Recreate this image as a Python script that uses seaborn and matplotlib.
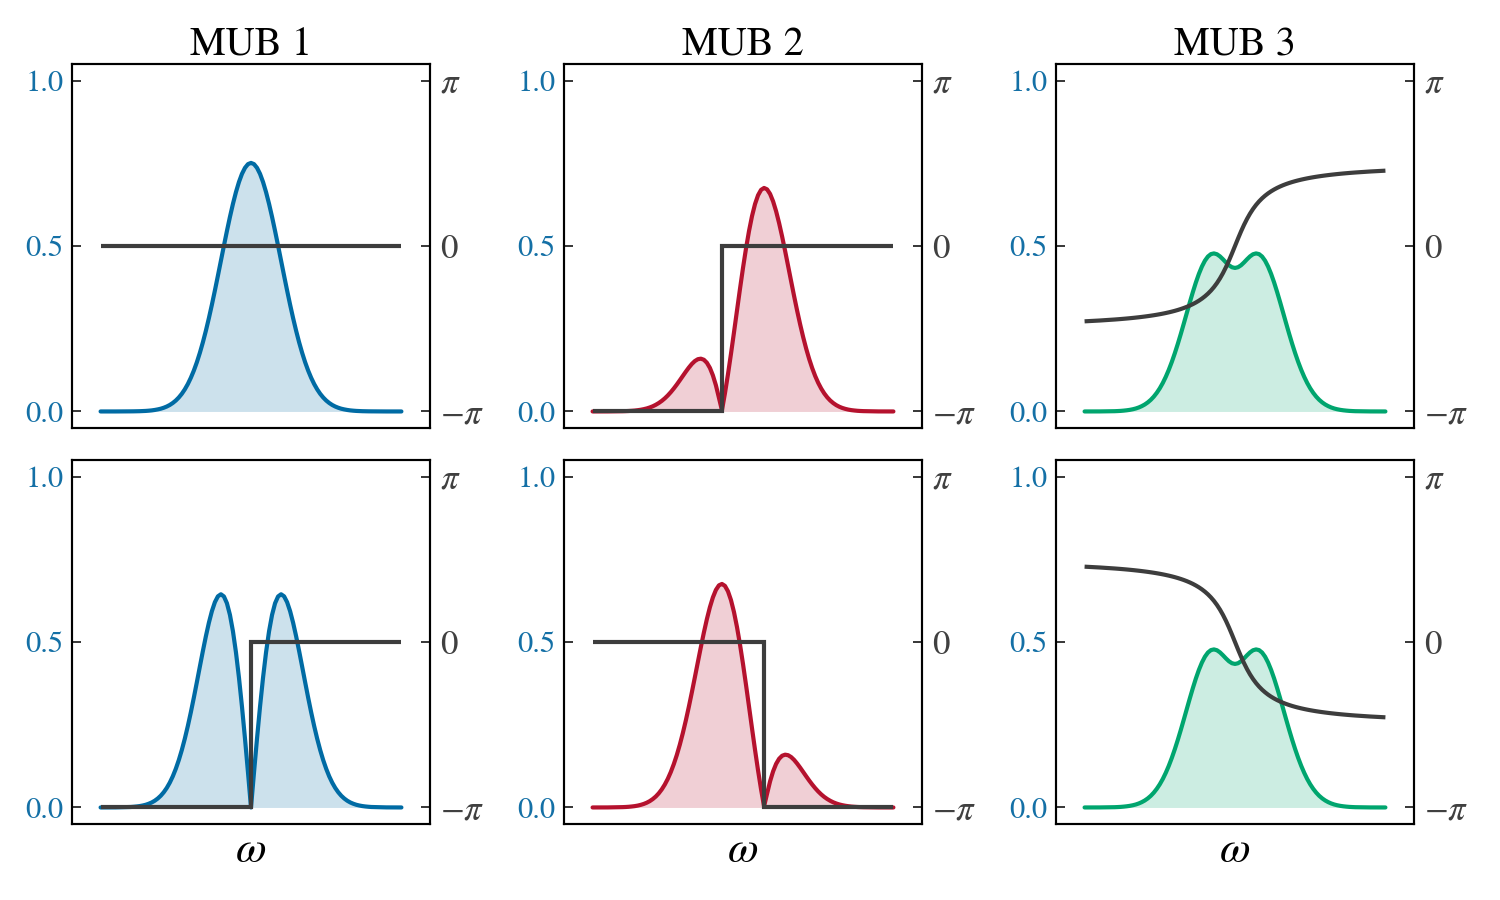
import numpy as np
import matplotlib
matplotlib.use("Agg")
import matplotlib.pyplot as plt
import seaborn as sns

# ---------------- data ----------------
omega = [-5.0, -4.5,
         -4.0, -3.9, -3.8, -3.7, -3.6, -3.5, -3.4, -3.3, -3.2, -3.1,
         -3.0, -2.9, -2.8, -2.7, -2.6, -2.5, -2.4, -2.3, -2.2, -2.1,
         -2.0, -1.9, -1.8, -1.7, -1.6, -1.5, -1.4, -1.3, -1.2, -1.1,
         -1.0, -0.9, -0.8, -0.7, -0.6, -0.5, -0.4, -0.3, -0.2, -0.1,
         0.0,
         0.1, 0.2, 0.3, 0.4, 0.5, 0.6, 0.7, 0.8, 0.9, 1.0,
         1.1, 1.2, 1.3, 1.4, 1.5, 1.6, 1.7, 1.8, 1.9, 2.0,
         2.1, 2.2, 2.3, 2.4, 2.5, 2.6, 2.7, 2.8, 2.9, 3.0,
         3.1, 3.2, 3.3, 3.4, 3.5, 3.6, 3.7, 3.8, 3.9, 4.0,
         4.5, 5.0]

amp_mub1_top = [0.0000, 0.0000,
                0.0003, 0.0004, 0.0006, 0.0008, 0.0012, 0.0016, 0.0023, 0.0032, 0.0045, 0.0062,
                0.0083, 0.0112, 0.0149, 0.0196, 0.0256, 0.0330, 0.0422, 0.0533, 0.0668, 0.0828,
                0.1017, 0.1235, 0.1486, 0.1771, 0.2088, 0.2438, 0.2819, 0.3226, 0.3656, 0.4102,
                0.4556, 0.5010, 0.5454, 0.5879, 0.6274, 0.6629, 0.6934, 0.7181, 0.7362, 0.7474,
                0.7511,
                0.7474, 0.7362, 0.7181, 0.6934, 0.6629, 0.6274, 0.5879, 0.5454, 0.5010, 0.4556,
                0.4102, 0.3656, 0.3226, 0.2819, 0.2438, 0.2088, 0.1771, 0.1486, 0.1235, 0.1017,
                0.0828, 0.0668, 0.0533, 0.0422, 0.0330, 0.0256, 0.0196, 0.0149, 0.0112, 0.0083,
                0.0062, 0.0045, 0.0032, 0.0023, 0.0016, 0.0012, 0.0008, 0.0006, 0.0004, 0.0003,
                0.0000, 0.0000]

amp_mub1_bot = [0.0000, 0.0002,
                0.0014, 0.0021, 0.0030, 0.0042, 0.0059, 0.0081, 0.0112, 0.0151, 0.0203, 0.0270,
                0.0354, 0.0460, 0.0590, 0.0749, 0.0940, 0.1167, 0.1431, 0.1735, 0.2078, 0.2459,
                0.2875, 0.3319, 0.3784, 0.4257, 0.4725, 0.5173, 0.5581, 0.5932, 0.6204, 0.6380,
                0.6443, 0.6376, 0.6171, 0.5820, 0.5323, 0.4687, 0.3922, 0.3046, 0.2082, 0.1057,
                0.0000,
                0.1057, 0.2082, 0.3046, 0.3922, 0.4687, 0.5323, 0.5820, 0.6171, 0.6376, 0.6443,
                0.6380, 0.6204, 0.5932, 0.5581, 0.5173, 0.4725, 0.4257, 0.3784, 0.3319, 0.2875,
                0.2459, 0.2078, 0.1735, 0.1431, 0.1167, 0.0940, 0.0749, 0.0590, 0.0460, 0.0354,
                0.0270, 0.0203, 0.0151, 0.0112, 0.0081, 0.0059, 0.0042, 0.0030, 0.0021, 0.0014,
                0.0002, 0.0000]

amp_mub2_top = [0.0000, 0.0001,
                0.0007, 0.0010, 0.0014, 0.0020, 0.0027, 0.0038, 0.0051, 0.0069, 0.0091, 0.0120,
                0.0156, 0.0201, 0.0255, 0.0319, 0.0395, 0.0483, 0.0583, 0.0694, 0.0814, 0.0942,
                0.1073, 0.1203, 0.1326, 0.1436, 0.1523, 0.1579, 0.1595, 0.1562, 0.1471, 0.1316,
                0.1089, 0.0789, 0.0414, 0.0034, 0.0549, 0.1121, 0.1739, 0.2387, 0.3048, 0.3705,
                0.4337,
                0.4925, 0.5453, 0.5905, 0.6268, 0.6533, 0.6696, 0.6754, 0.6712, 0.6574, 0.6350,
                0.6052, 0.5693, 0.5288, 0.4850, 0.4394, 0.3934, 0.3480, 0.3043, 0.2630, 0.2247,
                0.1898, 0.1585, 0.1310, 0.1070, 0.0864, 0.0691, 0.0546, 0.0427, 0.0330, 0.0253,
                0.0191, 0.0143, 0.0106, 0.0078, 0.0056, 0.0040, 0.0029, 0.0020, 0.0014, 0.0010,
                0.0001, 0.0000]

amp_mub2_bot = [0.0000, 0.0001,
                0.0010, 0.0014, 0.0020, 0.0029, 0.0040, 0.0056, 0.0078, 0.0106, 0.0143, 0.0191,
                0.0253, 0.0330, 0.0427, 0.0546, 0.0691, 0.0864, 0.1070, 0.1310, 0.1585, 0.1898,
                0.2247, 0.2630, 0.3043, 0.3480, 0.3934, 0.4394, 0.4850, 0.5288, 0.5693, 0.6052,
                0.6350, 0.6574, 0.6712, 0.6754, 0.6696, 0.6533, 0.6268, 0.5905, 0.5453, 0.4925,
                0.4337,
                0.3705, 0.3048, 0.2387, 0.1739, 0.1121, 0.0549, 0.0034, 0.0414, 0.0789, 0.1089,
                0.1316, 0.1471, 0.1562, 0.1595, 0.1579, 0.1523, 0.1436, 0.1326, 0.1203, 0.1073,
                0.0942, 0.0814, 0.0694, 0.0583, 0.0483, 0.0395, 0.0319, 0.0255, 0.0201, 0.0156,
                0.0120, 0.0091, 0.0069, 0.0051, 0.0038, 0.0027, 0.0020, 0.0014, 0.0010, 0.0007,
                0.0001, 0.0000]

amp_mub3 = [0.0000, 0.0001,
            0.0008, 0.0012, 0.0017, 0.0025, 0.0035, 0.0048, 0.0066, 0.0089, 0.0120, 0.0160,
            0.0210, 0.0273, 0.0351, 0.0447, 0.0563, 0.0700, 0.0861, 0.1048, 0.1260, 0.1498,
            0.1761, 0.2045, 0.2347, 0.2662, 0.2983, 0.3302, 0.3610, 0.3899, 0.4158, 0.4379,
            0.4556, 0.4682, 0.4755, 0.4776, 0.4751, 0.4687, 0.4599, 0.4503, 0.4417, 0.4358,
            0.4337,
            0.4358, 0.4417, 0.4503, 0.4599, 0.4687, 0.4751, 0.4776, 0.4755, 0.4682, 0.4556,
            0.4379, 0.4158, 0.3899, 0.3610, 0.3302, 0.2983, 0.2662, 0.2347, 0.2045, 0.1761,
            0.1498, 0.1260, 0.1048, 0.0861, 0.0700, 0.0563, 0.0447, 0.0351, 0.0273, 0.0210,
            0.0160, 0.0120, 0.0089, 0.0066, 0.0048, 0.0035, 0.0025, 0.0017, 0.0012, 0.0008,
            0.0001, 0.0000]

phase_mub3_top = [-1.4303, -1.4149,
                  -1.3958, -1.3914, -1.3868, -1.3820, -1.3769, -1.3715, -1.3658, -1.3597, -1.3533, -1.3465,
                  -1.3393, -1.3316, -1.3234, -1.3147, -1.3053, -1.2952, -1.2843, -1.2725, -1.2598, -1.2460,
                  -1.2310, -1.2145, -1.1965, -1.1766, -1.1547, -1.1303, -1.1031, -1.0726, -1.0383, -0.9995,
                  -0.9553, -0.9049, -0.8469, -0.7804, -0.7037, -0.6155, -0.5148, -0.4013, -0.2756, -0.1405,
                  0.0000,
                  0.1405, 0.2756, 0.4013, 0.5148, 0.6155, 0.7037, 0.7804, 0.8469, 0.9049, 0.9553,
                  0.9995, 1.0383, 1.0726, 1.1031, 1.1303, 1.1547, 1.1766, 1.1965, 1.2145, 1.2310,
                  1.2460, 1.2598, 1.2725, 1.2843, 1.2952, 1.3053, 1.3147, 1.3234, 1.3316, 1.3393,
                  1.3465, 1.3533, 1.3597, 1.3658, 1.3715, 1.3769, 1.3820, 1.3868, 1.3914, 1.3958,
                  1.4149, 1.4303]

phase_mub3_bot = [1.4303, 1.4149,
                  1.3958, 1.3914, 1.3868, 1.3820, 1.3769, 1.3715, 1.3658, 1.3597, 1.3533, 1.3465,
                  1.3393, 1.3316, 1.3234, 1.3147, 1.3053, 1.2952, 1.2843, 1.2725, 1.2598, 1.2460,
                  1.2310, 1.2145, 1.1965, 1.1766, 1.1547, 1.1303, 1.1031, 1.0726, 1.0383, 0.9995,
                  0.9553, 0.9049, 0.8469, 0.7804, 0.7037, 0.6155, 0.5148, 0.4013, 0.2756, 0.1405,
                  0.0000,
                  -0.1405, -0.2756, -0.4013, -0.5148, -0.6155, -0.7037, -0.7804, -0.8469, -0.9049, -0.9553,
                  -0.9995, -1.0383, -1.0726, -1.1031, -1.1303, -1.1547, -1.1766, -1.1965, -1.2145, -1.2310,
                  -1.2460, -1.2598, -1.2725, -1.2843, -1.2952, -1.3053, -1.3147, -1.3234, -1.3316, -1.3393,
                  -1.3465, -1.3533, -1.3597, -1.3658, -1.3715, -1.3769, -1.3820, -1.3868, -1.3914, -1.3958,
                  -1.4149, -1.4303]

# step-shaped phases: breakpoints (omega, phase in rad)
phase_mub1_top_x = [-5.0, 5.0]
phase_mub1_top = [0.0, 0.0]
phase_mub1_bot_x = [-5.0, 0.0, 0.0, 5.0]
phase_mub1_bot = [-3.1416, -3.1416, 0.0, 0.0]
phase_mub2_top_x = [-5.0, -0.707, -0.707, 5.0]
phase_mub2_top = [-3.1416, -3.1416, 0.0, 0.0]
phase_mub2_bot_x = [-5.0, 0.707, 0.707, 5.0]
phase_mub2_bot = [0.0, 0.0, -3.1416, -3.1416]

titles = ["MUB 1", "MUB 2", "MUB 3"]
amp_ticks = [0.0, 0.5, 1.0]
amp_ticklabels = ["0.0", "0.5", "1.0"]
phase_ticklabels = [r"$-\pi$", r"$0$", r"$\pi$"]

# ---------------- style ----------------
sns.set_theme(style="white")
plt.rcParams["font.family"] = ["STIXGeneral", "DejaVu Serif"]
plt.rcParams["mathtext.fontset"] = "stix"

blue = "#006BA4"
red = "#B5122E"
green = "#00A56E"
phase_col = "#3d3d3d"
label_blue = "#1470A6"
label_gray = "#404040"
LW = 3.0

amps = [[amp_mub1_top, amp_mub2_top, amp_mub3],
        [amp_mub1_bot, amp_mub2_bot, amp_mub3]]
phases = [[(phase_mub1_top_x, phase_mub1_top), (phase_mub2_top_x, phase_mub2_top), (omega, phase_mub3_top)],
          [(phase_mub1_bot_x, phase_mub1_bot), (phase_mub2_bot_x, phase_mub2_bot), (omega, phase_mub3_bot)]]
colors = [blue, red, green]

fig = plt.figure(figsize=(15, 9), dpi=100)
lefts = [72 / 1500, 564 / 1500, 1056 / 1500]
bottoms = [1 - 428 / 900, 1 - 824 / 900]
w = 358 / 1500
h = 364 / 900

for r in range(2):
    for c in range(3):
        ax = fig.add_axes([lefts[c], bottoms[r], w, h])
        col = colors[c]
        amp = amps[r][c]
        ax.fill_between(omega, 0, amp, color=col, alpha=0.2, lw=0, zorder=1)
        sns.lineplot(x=omega, y=amp, ax=ax, color=col,
                     estimator=None, sort=False, zorder=2)
        for ln in ax.get_lines():
            ln.set_linewidth(LW)
            ln.set_solid_joinstyle("round")
        ax.set_xlim(-5.95, 5.95)
        ax.set_ylim(-0.05, 1.05)
        ax.set_xticks([])
        ax.set_yticks(amp_ticks)
        ax.set_yticklabels(amp_ticklabels)
        ax.tick_params(axis="y", which="both", direction="in", length=6.5, width=1.1,
                       color="black", labelcolor=label_blue, labelsize=22, pad=6,
                       left=True, right=False)
        ax.set_ylabel("")
        for sp in ax.spines.values():
            sp.set_color("black")
            sp.set_linewidth(1.5)
            sp.set_visible(True)

        ax2 = ax.twinx()
        px, py = phases[r][c]
        sns.lineplot(x=px, y=py, ax=ax2, color=phase_col,
                     estimator=None, sort=False)
        for ln in ax2.get_lines():
            ln.set_linewidth(LW)
            ln.set_solid_joinstyle("miter")
            ln.set_solid_capstyle("butt")
        ax2.set_xlim(-5.95, 5.95)
        ax2.set_ylim(-1.1 * np.pi, 1.1 * np.pi)
        ax2.set_yticks([-np.pi, 0, np.pi])
        ax2.set_yticklabels(phase_ticklabels)
        ax2.tick_params(axis="y", which="both", direction="in", length=6.5, width=1.1,
                        color="black", labelcolor=label_gray, labelsize=25, pad=7,
                        right=True, left=False)
        ax2.set_ylabel("")
        ax2.set_xticks([])
        for sp in ax2.spines.values():
            sp.set_color("black")
            sp.set_linewidth(1.5)
            sp.set_visible(True)

        if r == 0:
            ax.set_title(titles[c], fontsize=29, pad=6, color="black")
        else:
            ax.set_xlabel(r"$\omega$", fontsize=32, labelpad=6, color="black")

fig.savefig("out.png", dpi=100)
